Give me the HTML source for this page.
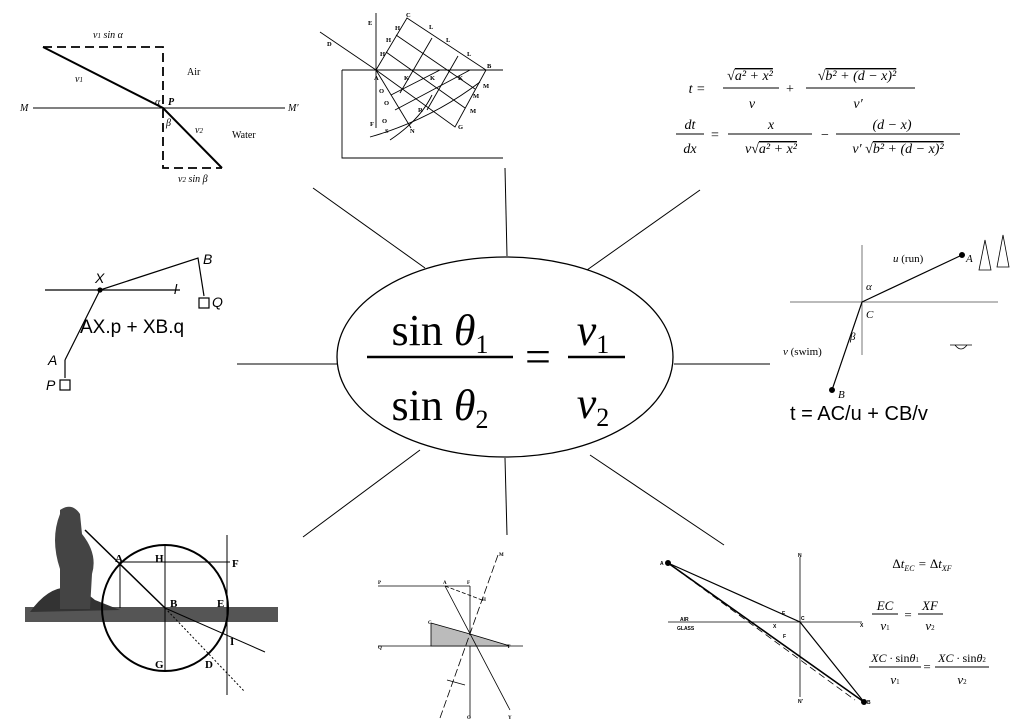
<!DOCTYPE html>
<html><head><meta charset="utf-8"><style>
html,body{margin:0;padding:0;background:#fff;}
svg{display:block;font-family:"Liberation Serif",serif;}
.s{font-family:"Liberation Sans",sans-serif;}
</style></head><body>
<svg width="1024" height="727" viewBox="0 0 1024 727" xmlns="http://www.w3.org/2000/svg">
<g stroke="#000" stroke-width="1" fill="none">
<!-- spokes -->
<line x1="313" y1="188" x2="425" y2="268"/>
<line x1="505" y1="168" x2="507" y2="256"/>
<line x1="587" y1="270" x2="700" y2="190"/>
<line x1="237" y1="364" x2="337" y2="364"/>
<line x1="674" y1="364" x2="770" y2="364"/>
<line x1="303" y1="537" x2="420" y2="450"/>
<line x1="505" y1="458" x2="507" y2="535"/>
<line x1="590" y1="455" x2="724" y2="545"/>
<ellipse cx="505" cy="357" rx="168" ry="100" stroke-width="1.3"/>
</g>
<!-- central formula -->
<g font-size="44" text-anchor="middle">
<text x="440" y="345">sin <tspan font-style="italic">θ</tspan><tspan font-size="26" dy="8">1</tspan></text>
<line x1="367" y1="357" x2="513" y2="357" stroke="#000" stroke-width="2.5"/>
<text x="440" y="420">sin <tspan font-style="italic">θ</tspan><tspan font-size="26" dy="8">2</tspan></text>
<text x="538" y="372" font-size="46">=</text>
<text x="593" y="345" font-style="italic">v<tspan font-size="26" dy="8" font-style="normal">1</tspan></text>
<line x1="568" y1="357" x2="625" y2="357" stroke="#000" stroke-width="2.5"/>
<text x="593" y="418" font-style="italic">v<tspan font-size="26" dy="8" font-style="normal">2</tspan></text>
</g>

<!-- top-left: air/water -->
<g stroke="#000" fill="none">
<line x1="33" y1="108" x2="285" y2="108"/>
<path d="M43 47 H163 V168 H222" stroke-dasharray="9,5" stroke-width="1.8"/>
<path d="M43 47 L163 108 L222 168" stroke-width="2"/>
</g>
<g font-size="10" font-style="italic">
<text x="93" y="38">v<tspan font-size="7">1</tspan> sin α</text>
<text x="75" y="82">v<tspan font-size="7">1</tspan></text>
<text x="155" y="105">α</text><text x="168" y="105" font-weight="bold">P</text>
<text x="166" y="126">β</text><text x="195" y="133">v<tspan font-size="7">2</tspan></text>
<text x="20" y="111">M</text><text x="288" y="111">M′</text>
<text x="178" y="182">v<tspan font-size="7">2</tspan> sin β</text>
</g>
<g font-size="10"><text x="187" y="75">Air</text><text x="232" y="138">Water</text></g>

<!-- top-center: Huygens grid -->
<g stroke="#000" fill="none" stroke-width="0.9">
<path d="M342 70 H503 M342 70 V158 H503"/>
<line x1="376" y1="13" x2="376" y2="128"/>
<line x1="320" y1="32" x2="376" y2="70"/>
<path d="M376 70 L407 18 L486 70 L455 127 Z"/>
<line x1="386" y1="52" x2="465" y2="108"/><line x1="396" y1="35" x2="475" y2="89"/>
<line x1="400" y1="93" x2="432" y2="38"/><line x1="427" y1="110" x2="458" y2="56"/>
<line x1="376" y1="70" x2="411" y2="128"/>
<line x1="391" y1="95" x2="440" y2="70"/><line x1="395" y1="110" x2="470" y2="70"/>
<path d="M370 137 Q430 120 480 82"/><path d="M390 140 Q420 120 432 95"/>
</g>
<g font-size="6.5" font-weight="bold">
<text x="368" y="25">E</text><text x="327" y="46">D</text><text x="406" y="17">C</text>
<text x="395" y="30">H</text><text x="386" y="42">H</text><text x="380" y="56">H</text>
<text x="429" y="29">L</text><text x="446" y="42">L</text><text x="467" y="56">L</text>
<text x="374" y="80">A</text><text x="487" y="68">B</text>
<text x="404" y="80">K</text><text x="430" y="80">K</text><text x="458" y="80">K</text>
<text x="379" y="93">O</text><text x="384" y="105">O</text><text x="382" y="123">O</text>
<text x="418" y="112">R</text><text x="483" y="88">M</text><text x="473" y="98">M</text><text x="470" y="113">M</text>
<text x="370" y="126">F</text><text x="385" y="133">S</text><text x="410" y="133">N</text><text x="458" y="129">G</text>
</g>

<!-- top-right formulas -->
<g font-size="14" font-style="italic" text-anchor="middle">
<text x="697" y="93">t =</text>
<text x="750" y="80">√<tspan text-decoration="overline">a² + x²</tspan></text>
<line x1="723" y1="88" x2="779" y2="88" stroke="#000"/>
<text x="752" y="108">v</text>
<text x="790" y="93" font-style="normal">+</text>
<text x="857" y="80">√<tspan text-decoration="overline">b² + (d − x)²</tspan></text>
<line x1="806" y1="88" x2="915" y2="88" stroke="#000"/>
<text x="858" y="108">v′</text>
<text x="690" y="129">dt</text><line x1="676" y1="134" x2="704" y2="134" stroke="#000"/><text x="690" y="153">dx</text>
<text x="715" y="139" font-style="normal">=</text>
<text x="771" y="129">x</text><line x1="728" y1="134" x2="812" y2="134" stroke="#000"/>
<text x="771" y="153">v√<tspan text-decoration="overline">a² + x²</tspan></text>
<text x="825" y="139" font-style="normal">−</text>
<text x="892" y="129">(d − x)</text><line x1="836" y1="134" x2="960" y2="134" stroke="#000"/>
<text x="898" y="153">v′ √<tspan text-decoration="overline">b² + (d − x)²</tspan></text>
</g>

<!-- left-middle -->
<g stroke="#000" fill="none" stroke-width="1.2">
<line x1="45" y1="290" x2="180" y2="290"/>
<path d="M65 360 L100 290 L198 258 L204 296"/>
<path d="M65 360 L65 378"/>
<rect x="60" y="380" width="10" height="10"/><rect x="199" y="298" width="10" height="10"/>
<circle cx="100" cy="290" r="2" fill="#000"/>
</g>
<g font-size="14" font-style="italic" class="s">
<text x="95" y="283">X</text><text x="203" y="264">B</text><text x="174" y="294">l</text>
<text x="212" y="307">Q</text><text x="48" y="365">A</text><text x="46" y="390">P</text>
</g>
<text x="80" y="333" font-size="19" class="s">AX.p + XB.q</text>

<!-- right-middle -->
<g stroke="#000" fill="none">
<line x1="790" y1="302" x2="998" y2="302" stroke="#777"/>
<line x1="862" y1="245" x2="862" y2="355" stroke="#777"/>
<path d="M962 255 L862 302 L832 390" stroke-width="1.2"/>
<circle cx="962" cy="255" r="2.5" fill="#000"/><circle cx="832" cy="390" r="2.5" fill="#000"/>
<path d="M985 240 l-6 30 h12 Z M1003 235 l-6 32 h12 Z" stroke-width="0.8"/>
<path d="M950 345 h22 M955 345 q6 8 12 0" stroke-width="0.8"/>
</g>
<g font-size="11">
<text x="893" y="262"><tspan font-style="italic">u</tspan> (run)</text><text x="966" y="262" font-style="italic">A</text>
<text x="866" y="290" font-style="italic">α</text><text x="866" y="318" font-style="italic">C</text>
<text x="850" y="340" font-style="italic">β</text>
<text x="783" y="355"><tspan font-style="italic">v</tspan> (swim)</text><text x="838" y="398" font-style="italic">B</text>
</g>
<text x="790" y="420" font-size="20" class="s">t = AC/u + CB/v</text>

<!-- bottom-left: man + circle -->
<g stroke="#000" fill="none">
<rect x="25" y="607" width="253" height="15" fill="#555" stroke="none"/>
<path d="M30 612 Q60 570 95 600 L120 610" fill="#333" stroke="none"/>
<path d="M60 510 q12 -8 20 4 l2 20 q16 20 10 40 l-2 35 h-30 l0 -40 q-10 -30 0 -55 Z" fill="#444" stroke="none"/>
<path d="M85 530 L165 608" stroke-width="1.5"/>
<circle cx="165" cy="608" r="63" stroke-width="2"/>
<line x1="120" y1="562" x2="230" y2="562"/>
<line x1="120" y1="562" x2="120" y2="608"/>
<line x1="165" y1="545" x2="165" y2="670"/>
<line x1="227" y1="535" x2="227" y2="695"/>
<line x1="165" y1="608" x2="265" y2="652"/>
<line x1="165" y1="608" x2="245" y2="692" stroke-dasharray="2,2"/>
</g>
<g font-size="11" font-weight="bold">
<text x="115" y="562">A</text><text x="155" y="562">H</text><text x="232" y="567">F</text>
<text x="170" y="607">B</text><text x="217" y="607">E</text><text x="230" y="645">I</text>
<text x="155" y="668">G</text><text x="205" y="668">D</text>
</g>

<!-- bottom-center -->
<g stroke="#000" fill="none" stroke-width="0.8">
<line x1="378" y1="586" x2="470" y2="586"/><line x1="470" y1="586" x2="470" y2="718"/>
<line x1="378" y1="646" x2="523" y2="646"/>
<path d="M431 623 L470 634 L510 646 H431 Z" fill="#bbb"/>
<line x1="445" y1="586" x2="510" y2="710"/>
<line x1="440" y1="718" x2="498" y2="555" stroke-dasharray="8,3"/>
<line x1="445" y1="586" x2="482" y2="600" stroke-dasharray="4,2"/>
<line x1="447" y1="680" x2="465" y2="685"/>
</g>
<g font-size="5" font-weight="bold">
<text x="378" y="584">P</text><text x="443" y="584">A</text><text x="467" y="584">F</text><text x="499" y="556">M</text>
<text x="482" y="601">H</text><text x="428" y="624">C</text><text x="378" y="649">Q</text><text x="507" y="648">T</text>
<text x="467" y="719">O</text><text x="508" y="719">Y</text>
</g>

<!-- bottom-right -->
<g stroke="#000" fill="none">
<line x1="668" y1="622" x2="862" y2="622" stroke-width="0.8"/>
<line x1="800" y1="557" x2="800" y2="697" stroke-width="0.8"/>
<path d="M668 563 L800 622 L864 702" stroke-width="1.2"/>
<path d="M668 563 L864 702" stroke-width="1.6"/>
<path d="M668 563 L855 700" stroke-dasharray="7,4" stroke-width="0.8"/>
<circle cx="668" cy="563" r="2.5" fill="#000"/><circle cx="864" cy="702" r="2.5" fill="#000"/>
</g>
<g font-size="5" font-weight="bold" class="s">
<text x="660" y="565">A</text><text x="798" y="557">N</text><text x="680" y="621">AIR</text><text x="677" y="630">GLASS</text>
<text x="782" y="615">E</text><text x="773" y="628">X</text><text x="801" y="620">C</text><text x="783" y="638">F</text>
<text x="860" y="627">X</text><text x="798" y="703">N′</text><text x="867" y="704">B</text>
</g>
<g font-size="13" font-style="italic" text-anchor="middle">
<text x="922" y="568"><tspan font-style="normal">Δ</tspan>t<tspan font-size="8" dy="3">EC</tspan><tspan dy="-3"> = </tspan><tspan font-style="normal">Δ</tspan>t<tspan font-size="8" dy="3">XF</tspan></text>
<text x="885" y="610">EC</text><line x1="872" y1="614" x2="898" y2="614" stroke="#000"/><text x="885" y="630">v<tspan font-size="7" font-style="normal">1</tspan></text>
<text x="908" y="619" font-style="normal">=</text>
<text x="930" y="610">XF</text><line x1="918" y1="614" x2="943" y2="614" stroke="#000"/><text x="930" y="630">v<tspan font-size="7" font-style="normal">2</tspan></text>
<text x="895" y="662" font-size="12">XC · <tspan font-style="normal">sin</tspan>θ<tspan font-size="7" font-style="normal">1</tspan></text>
<line x1="869" y1="667" x2="921" y2="667" stroke="#000"/><text x="895" y="684">v<tspan font-size="7" font-style="normal">1</tspan></text>
<text x="927" y="671" font-style="normal">=</text>
<text x="962" y="662" font-size="12">XC · <tspan font-style="normal">sin</tspan>θ<tspan font-size="7" font-style="normal">2</tspan></text>
<line x1="935" y1="667" x2="989" y2="667" stroke="#000"/><text x="962" y="684">v<tspan font-size="7" font-style="normal">2</tspan></text>
</g>
</svg>
</body></html>
